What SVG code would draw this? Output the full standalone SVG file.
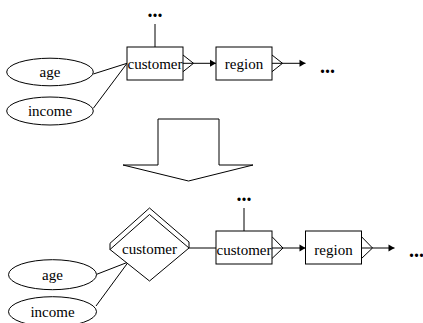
<svg xmlns="http://www.w3.org/2000/svg" width="423" height="323" viewBox="0 0 423 323">
  <defs>
    <style>
      .shape { fill: #fff; stroke: #000; stroke-width: 1; }
      .line { fill: none; stroke: #000; stroke-width: 1; }
      .label { font-family: "Liberation Serif", "DejaVu Serif", serif; font-size: 15px; fill: #000; text-anchor: middle; }
      .dots { font-family: "Liberation Serif", "DejaVu Serif", serif; font-size: 20px; font-weight: bold; fill: #000; }
    </style>
    <marker id="arrow" markerUnits="userSpaceOnUse" markerWidth="8" markerHeight="8" refX="7" refY="4" orient="auto">
      <path d="M1,0.5 L7,4 L1,7.5 Z" fill="#000"/>
    </marker>
  </defs>
  <rect width="423" height="323" fill="#fff"/>

  <!-- connectors -->
  <g id="connectors">
    <!-- upper schema -->
    <line class="line" x1="155" y1="24" x2="155" y2="47"/>
    <line class="line" x1="93.3" y1="74" x2="127" y2="63.3"/>
    <line class="line" x1="93.3" y1="108.3" x2="127" y2="63.3"/>
    <polyline class="line" points="183,55 193.5,63.3 183,71.7"/>
    <line class="line" x1="183" y1="63.3" x2="216" y2="63.3" marker-end="url(#arrow)"/>
    <polyline class="line" points="272,55 282.5,63.3 272,71.7"/>
    <line class="line" x1="272" y1="63.3" x2="305.5" y2="63.3" marker-end="url(#arrow)"/>
    <!-- lower schema -->
    <line class="line" x1="244" y1="208" x2="244" y2="231"/>
    <line class="line" x1="96.7" y1="274.3" x2="128.3" y2="262"/>
    <line class="line" x1="96" y1="306" x2="128.3" y2="262"/>
    <line class="line" x1="189" y1="248" x2="216" y2="248"/>
    <polyline class="line" points="272,236.7 283,248 272,258.5"/>
    <line class="line" x1="272" y1="248" x2="305.5" y2="248" marker-end="url(#arrow)"/>
    <polyline class="line" points="361.5,236.7 372.5,248 361.5,258.5"/>
    <line class="line" x1="361.5" y1="248" x2="394.5" y2="248" marker-end="url(#arrow)"/>
  </g>

  <!-- upper schema nodes -->
  <g id="top-age">
    <ellipse class="shape" cx="50" cy="72" rx="43.3" ry="13.8"/>
    <text class="label" x="50" y="77">age</text>
  </g>
  <g id="top-income">
    <ellipse class="shape" cx="50" cy="111" rx="43.3" ry="14"/>
    <text class="label" x="50" y="116">income</text>
  </g>
  <g id="top-customer">
    <rect class="shape" x="127" y="47" width="56" height="33"/>
    <text class="label" x="155" y="69">customer</text>
  </g>
  <g id="top-region">
    <rect class="shape" x="216" y="47" width="56" height="33"/>
    <text class="label" x="244" y="69">region</text>
  </g>
  <g id="top-more-up">
    <text class="dots" x="155" y="17" text-anchor="middle">...</text>
  </g>
  <g id="top-more-right">
    <text class="dots" x="320" y="73">...</text>
  </g>

  <!-- transformation arrow -->
  <g id="transform-arrow">
    <polygon class="shape" points="158,119 219,119 219,165 253,165 188.5,181 123,165 158,165"/>
  </g>

  <!-- lower schema nodes -->
  <g id="bottom-age">
    <ellipse class="shape" cx="52.5" cy="274.7" rx="44" ry="15"/>
    <text class="label" x="52.5" y="279.5">age</text>
  </g>
  <g id="bottom-income">
    <ellipse class="shape" cx="52.5" cy="311.7" rx="44" ry="15"/>
    <text class="label" x="52.5" y="316.5">income</text>
  </g>
  <g id="bottom-customer-dim">
    <polyline class="line" points="110,250 110,243.3 149.5,208 189,242 189,248"/>
    <polygon class="shape" points="110,249.5 149.5,214.5 189,248 149.5,281"/>
    <text class="label" x="149.5" y="254">customer</text>
  </g>
  <g id="bottom-customer">
    <rect class="shape" x="216" y="231" width="56" height="33"/>
    <text class="label" x="244" y="254.5">customer</text>
  </g>
  <g id="bottom-region">
    <rect class="shape" x="305.5" y="231" width="56" height="33"/>
    <text class="label" x="333.5" y="254.5">region</text>
  </g>
  <g id="bottom-more-up">
    <text class="dots" x="244" y="201" text-anchor="middle">...</text>
  </g>
  <g id="bottom-more-right">
    <text class="dots" x="409" y="257">...</text>
  </g>
</svg>
